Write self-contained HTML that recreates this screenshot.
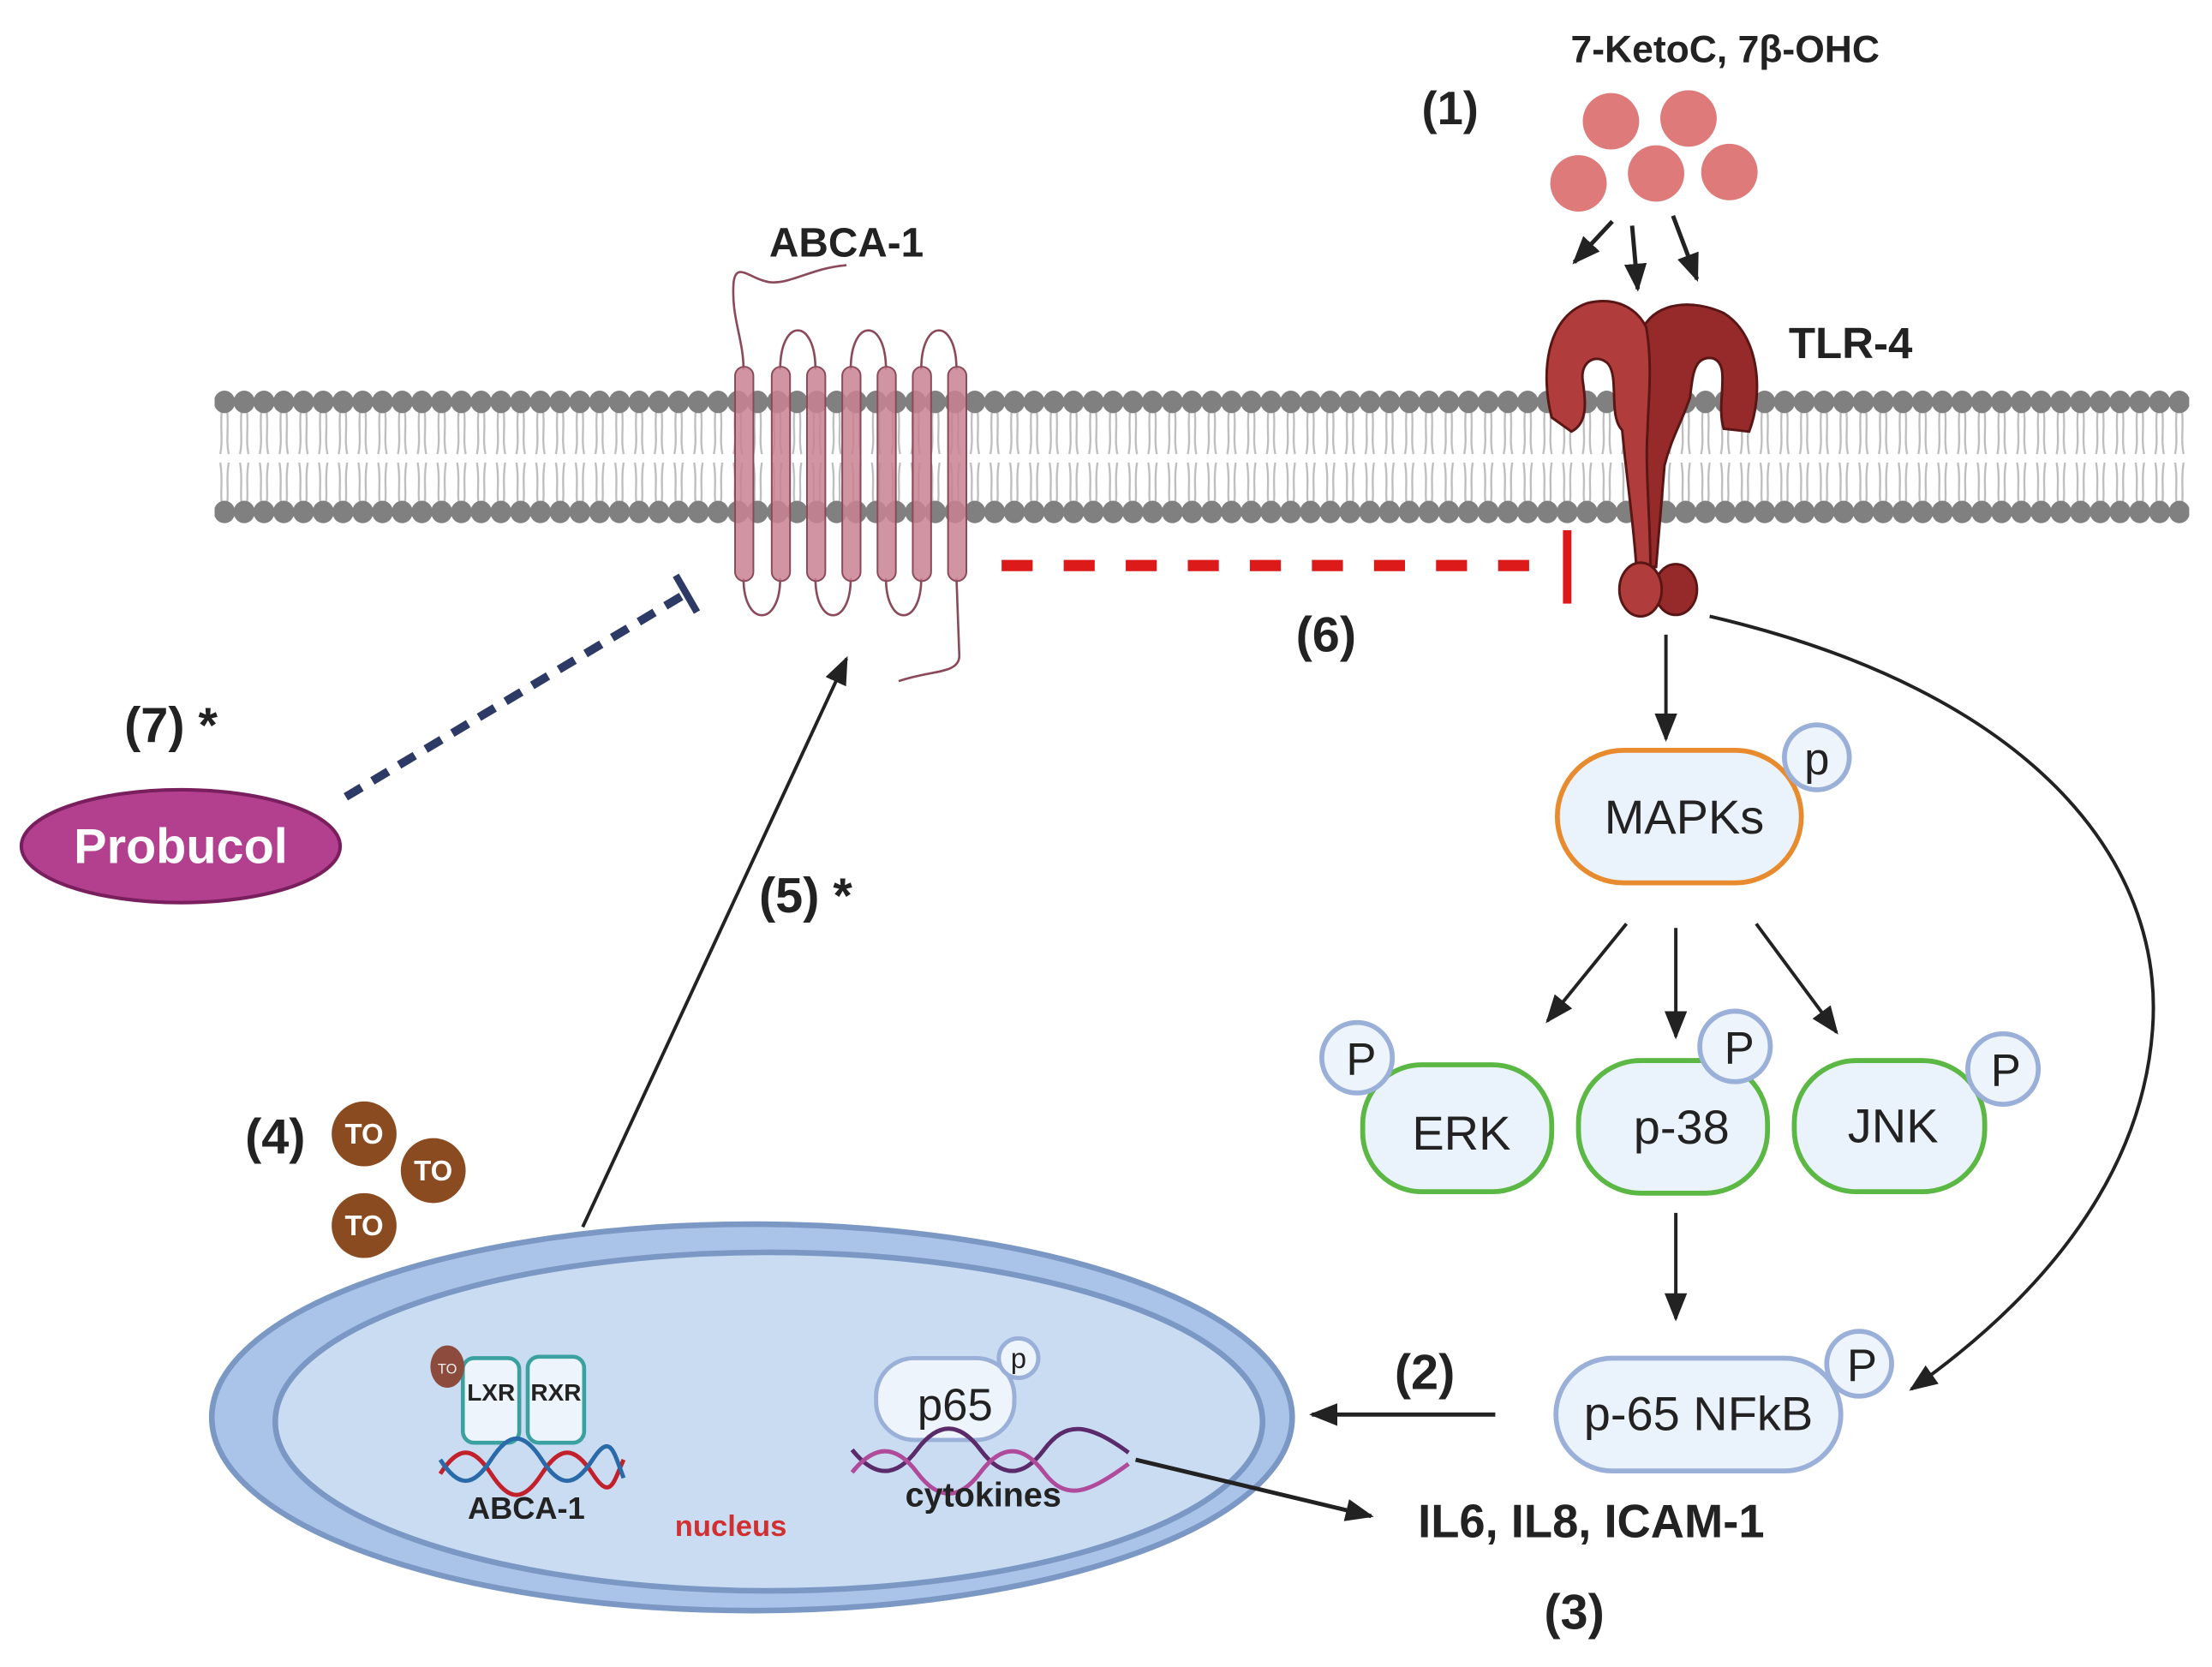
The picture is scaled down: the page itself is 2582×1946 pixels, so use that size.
<!DOCTYPE html>
<html><head><meta charset="utf-8"><style>html,body{margin:0;padding:0;background:#fff}svg{display:block}</style></head><body>
<svg width="2582" height="1946" viewBox="0 0 1568 1182" xmlns="http://www.w3.org/2000/svg" font-family="Liberation Sans, sans-serif">
<defs>
<pattern id="lip" x="152" y="0" width="14" height="1182" patternUnits="userSpaceOnUse">
<g stroke="#bdbdbd" stroke-width="1.4" fill="none">
<path d="M5,292 C4,305 6,312 4,322 M9,292 C10,305 8,312 10,322"/>
<path d="M4,328 C6,340 4,348 5,356 M10,328 C8,340 10,348 9,356"/>
</g>
<ellipse cx="7" cy="285" rx="7.5" ry="8" fill="#808080"/>
<ellipse cx="7" cy="363" rx="7.5" ry="8" fill="#808080"/>
</pattern>
<marker id="ahb" markerWidth="20" markerHeight="20" refX="18" refY="10" orient="auto" markerUnits="userSpaceOnUse" viewBox="0 0 20 20"><path d="M0,2 L20,10 L0,18 Z" fill="#222"/></marker>
</defs>
<rect width="1568" height="1182" fill="#fff"/>
<rect x="152" y="270" width="1400" height="105" fill="url(#lip)"/>

<!-- ABCA-1 -->
<g fill="none" stroke="#8a4a5a" stroke-width="1.6">
<path d="M527,262 C527,240 518,225 520,200 C522,185 532,198 545,200 C560,202 575,190 600,188"/>
<path d="M553,262 C553,225 578,225 578,262"/>
<path d="M603,262 C603,225 628,225 628,262"/>
<path d="M653,262 C653,225 678,225 678,262"/>
<path d="M527,410 C527,445 553,445 553,410"/>
<path d="M578,410 C578,445 603,445 603,410"/>
<path d="M628,410 C628,445 653,445 653,410"/>
<path d="M678,410 L680,465 C680,478 660,475 637,483"/>
</g>
<g fill="#c98192" stroke="#8a4a5a" stroke-width="1.2" fill-opacity="0.85">
<rect x="521" y="260" width="13" height="152" rx="6.5"/>
<rect x="547" y="260" width="13" height="152" rx="6.5"/>
<rect x="572" y="260" width="13" height="152" rx="6.5"/>
<rect x="597" y="260" width="13" height="152" rx="6.5"/>
<rect x="622" y="260" width="13" height="152" rx="6.5"/>
<rect x="647" y="260" width="13" height="152" rx="6.5"/>
<rect x="672" y="260" width="13" height="152" rx="6.5"/>
</g>
<text x="600" y="182" font-size="29" font-weight="bold" text-anchor="middle" fill="#222">ABCA-1</text>

<!-- TLR-4 -->
<g stroke="#5a1515" stroke-width="1.8">
<path fill="#962a2a" d="M1165,232 C1175,214 1200,212 1222,222 C1248,238 1250,280 1240,306 L1222,304 C1216,286 1228,258 1214,254 C1200,252 1200,268 1198,282 C1192,300 1185,310 1180,330 L1174,402 L1166,402 Z"/>
<path fill="#b03c3c" d="M1114,306 L1100,296 C1092,265 1096,225 1125,215 C1145,210 1160,218 1167,232 C1172,260 1168,290 1168,305 C1166,330 1170,370 1170,402 L1160,402 C1158,370 1152,330 1150,305 C1140,295 1148,268 1140,258 C1132,250 1120,256 1122,270 C1124,284 1126,300 1114,306 Z"/>
<ellipse cx="1188" cy="418" rx="15" ry="18" fill="#962a2a"/>
<ellipse cx="1163" cy="418" rx="15" ry="19" fill="#b03c3c"/>
</g>
<text x="1268" y="254" font-size="31" font-weight="bold" fill="#222">TLR-4</text>

<!-- oxysterols -->
<g fill="#de7a7a">
<circle cx="1142" cy="86" r="20"/><circle cx="1197" cy="84" r="20"/>
<circle cx="1119" cy="130" r="20"/><circle cx="1174" cy="123" r="20"/><circle cx="1226" cy="122" r="20"/>
</g>
<text x="1223" y="44" font-size="27" font-weight="bold" text-anchor="middle" fill="#222">7-KetoC, 7β-OHC</text>
<text x="1028" y="88" font-size="33" font-weight="bold" text-anchor="middle" fill="#222">(1)</text>
<g stroke="#222" stroke-width="3" fill="none">
<line x1="1143" y1="157" x2="1116" y2="186" marker-end="url(#ahb)"/>
<line x1="1157" y1="160" x2="1161" y2="205" marker-end="url(#ahb)"/>
<line x1="1186" y1="153" x2="1203" y2="198" marker-end="url(#ahb)"/>
</g>

<!-- (6) red dashed -->
<line x1="710" y1="401" x2="1090" y2="401" stroke="#dd1a1a" stroke-width="8" stroke-dasharray="22,22"/>
<line x1="1111" y1="376" x2="1111" y2="428" stroke="#dd1a1a" stroke-width="6"/>
<text x="940" y="462" font-size="35" font-weight="bold" text-anchor="middle" fill="#222">(6)</text>

<!-- Probucol -->
<line x1="245" y1="565" x2="486" y2="421" stroke="#2e3a66" stroke-width="6" stroke-dasharray="13,9"/>
<line x1="479" y1="408" x2="494" y2="434" stroke="#2e3a66" stroke-width="5"/>
<ellipse cx="128" cy="600" rx="113" ry="40" fill="#b3408f" stroke="#7a1f5e" stroke-width="2.5"/>
<text x="128" y="612" font-size="35" font-weight="bold" text-anchor="middle" fill="#fff">Probucol</text>
<text x="88" y="526" font-size="35" font-weight="bold" fill="#222">(7) *</text>

<!-- nucleus -->
<ellipse cx="533" cy="1005" rx="383" ry="137" fill="#a9c4e8" stroke="#7b98c4" stroke-width="4"/>
<ellipse cx="545" cy="1008" rx="350" ry="120" fill="#c9dcf2" stroke="#7b98c4" stroke-width="4"/>
<g fill="#eef4fb" stroke="#3aa0a0" stroke-width="2.8">
<rect x="328" y="963" width="40" height="60" rx="8"/><rect x="374" y="962" width="40" height="61" rx="8"/>
</g>
<ellipse cx="317" cy="969" rx="12" ry="15" fill="#8c4b3c"/>
<text x="317" y="974" font-size="10" text-anchor="middle" fill="#eee">TO</text>
<text x="348" y="993" font-size="17" font-weight="bold" text-anchor="middle" fill="#222">LXR</text>
<text x="394" y="993" font-size="17" font-weight="bold" text-anchor="middle" fill="#222">RXR</text>
<path d="M312,1045 C325,1025 335,1025 348,1045 S371,1065 384,1045 S407,1025 420,1045 S435,1050 442,1035" stroke="#c2202a" stroke-width="3" fill="none"/>
<path d="M312,1035 C325,1055 335,1055 348,1035 S371,1015 384,1035 S407,1055 420,1035 S435,1030 442,1048" stroke="#2a6aa8" stroke-width="3" fill="none"/>
<text x="373" y="1077" font-size="22" font-weight="bold" text-anchor="middle" fill="#222">ABCA-1</text>
<text x="518" y="1089" font-size="21" font-weight="bold" text-anchor="middle" fill="#d03030">nucleus</text>

<rect x="621" y="963" width="98" height="58" rx="27" fill="#eef4fb" stroke="#9bb0d8" stroke-width="3"/>
<circle cx="722" cy="963" r="14" fill="#eef4fb" stroke="#9bb0d8" stroke-width="3"/>
<text x="722" y="970" font-size="20" text-anchor="middle" fill="#222">p</text>
<text x="677" y="1007" font-size="32" text-anchor="middle" fill="#222">p65</text>
<path d="M604,1028 C620,1048 635,1048 650,1028 S680,1008 695,1028 S725,1048 740,1028 S770,1008 800,1030" stroke="#5a2a6a" stroke-width="3" fill="none"/>
<path d="M604,1044 C620,1024 635,1024 650,1044 S680,1064 695,1044 S725,1024 740,1044 S770,1060 800,1038" stroke="#b04a9a" stroke-width="3" fill="none"/>
<text x="697" y="1068" font-size="24" font-weight="bold" text-anchor="middle" fill="#222">cytokines</text>

<!-- arrows -->
<g stroke="#222" stroke-width="2.4" fill="none">
<line x1="1181" y1="450" x2="1181" y2="524" marker-end="url(#ahb)"/>
<line x1="1153" y1="655" x2="1097" y2="724" marker-end="url(#ahb)"/>
<line x1="1188" y1="658" x2="1188" y2="735" marker-end="url(#ahb)"/>
<line x1="1245" y1="655" x2="1302" y2="732" marker-end="url(#ahb)"/>
<line x1="1188" y1="860" x2="1188" y2="935" marker-end="url(#ahb)"/>
<line x1="1060" y1="1003" x2="930" y2="1003" stroke-width="3" marker-end="url(#ahb)"/>
<path d="M1212,437 C1440,490 1535,610 1526,730 C1518,840 1440,925 1355,985" marker-end="url(#ahb)"/>
<line x1="805" y1="1035" x2="972" y2="1075" stroke-width="3" marker-end="url(#ahb)"/>
<line x1="413" y1="870" x2="600" y2="467" marker-end="url(#ahb)"/>
</g>
<text x="538" y="647" font-size="35" font-weight="bold" fill="#222">(5) *</text>

<!-- MAPKs -->
<rect x="1104" y="532" width="173" height="94" rx="47" fill="#eaf2fb" stroke="#e88b2e" stroke-width="3.5"/>
<text x="1194" y="591" font-size="34" text-anchor="middle" fill="#222">MAPKs</text>
<circle cx="1288" cy="537" r="23" fill="#eef4fb" stroke="#9bb0d8" stroke-width="3.5"/>
<text x="1288" y="549" font-size="32" text-anchor="middle" fill="#222">p</text>

<g fill="#eaf2fb" stroke="#5cb845" stroke-width="3.5">
<rect x="966" y="755" width="134" height="90" rx="42"/>
<rect x="1119" y="752" width="134" height="94" rx="44"/>
<rect x="1272" y="752" width="135" height="93" rx="44"/>
</g>
<g fill="#eef4fb" stroke="#9bb0d8" stroke-width="3.5">
<circle cx="962" cy="750" r="25"/><circle cx="1230" cy="742" r="25"/><circle cx="1420" cy="758" r="25"/>
<circle cx="1318" cy="967" r="23"/>
</g>
<g font-size="32" text-anchor="middle" fill="#222">
<text x="965" y="762">P</text><text x="1233" y="754">P</text><text x="1422" y="770">P</text>
<text x="1320" y="979">P</text>
<text x="1036" y="815" font-size="34">ERK</text>
<text x="1192" y="811" font-size="34">p-38</text>
<text x="1342" y="810" font-size="34">JNK</text>
</g>

<rect x="1103" y="963" width="202" height="80" rx="40" fill="#eaf2fb" stroke="#9bb0d8" stroke-width="3.5"/>
<text x="1204" y="1014" font-size="34" text-anchor="middle" fill="#222">p-65 NFkB</text>
<text x="1010" y="985" font-size="35" font-weight="bold" text-anchor="middle" fill="#222">(2)</text>
<text x="1128" y="1090" font-size="33" font-weight="bold" text-anchor="middle" fill="#222">IL6, IL8, ICAM-1</text>
<text x="1116" y="1155" font-size="35" font-weight="bold" text-anchor="middle" fill="#222">(3)</text>

<!-- TO -->
<g fill="#8b4b20">
<circle cx="258" cy="804" r="23"/><circle cx="307" cy="830" r="23"/><circle cx="258" cy="869" r="23"/>
</g>
<g font-size="20" font-weight="bold" text-anchor="middle" fill="#fff">
<text x="258" y="811">TO</text><text x="307" y="837">TO</text><text x="258" y="876">TO</text>
</g>
<text x="195" y="818" font-size="35" font-weight="bold" text-anchor="middle" fill="#222">(4)</text>
</svg>
</body></html>
